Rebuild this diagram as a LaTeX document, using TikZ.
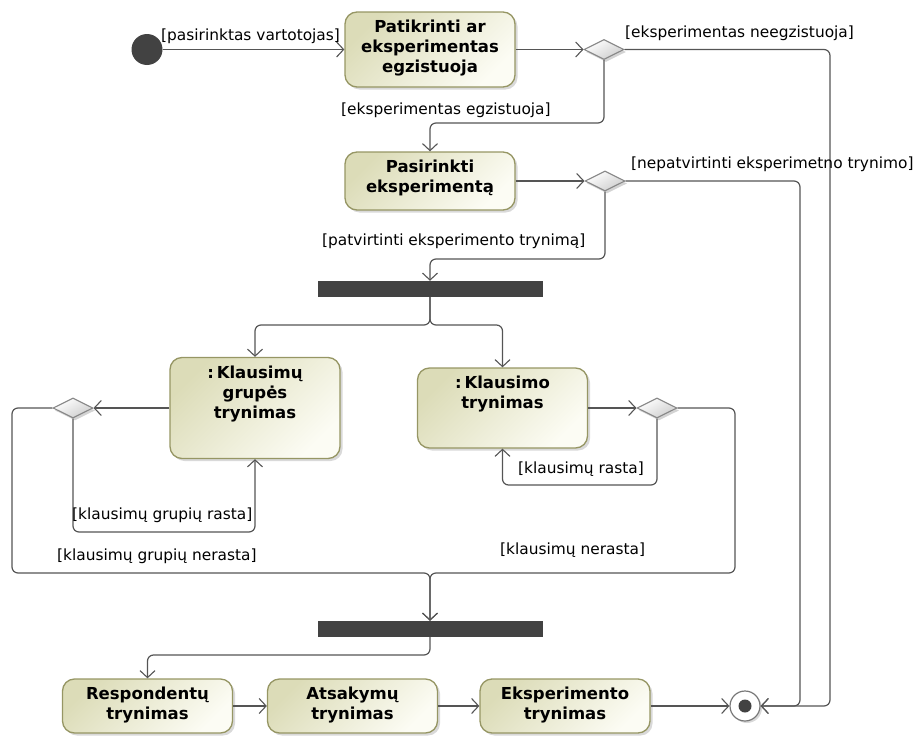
\documentclass[tikz,border=0pt]{standalone}
\usepackage{fontspec}
\setmainfont{DejaVu Sans}
\usetikzlibrary{arrows.meta,shapes.geometric,shadows,calc}

\definecolor{linec}{RGB}{85,85,85}
\definecolor{boxdark}{RGB}{220,220,184}
\definecolor{boxlight}{RGB}{252,252,244}
\definecolor{boxedge}{RGB}{150,150,100}
\definecolor{barc}{RGB}{66,66,66}
\definecolor{diaedge}{RGB}{135,135,135}
\definecolor{diafill}{RGB}{205,205,205}
\definecolor{endedge}{RGB}{120,120,120}

\begin{document}
\begin{tikzpicture}[x=1pt,y=-1pt,
  flow/.style={draw=linec, line width=1.2pt, rounded corners=6pt,
    -{Straight Barb[length=7pt,width=15pt,line width=1.1pt]}},
  actbox/.style={draw=boxedge, line width=1.3pt, rounded corners=12pt,
    top color=boxdark, bottom color=boxlight, shading angle=45,
    drop shadow={shadow xshift=2.5pt, shadow yshift=-2.5pt, opacity=.3},
    minimum width=170pt, inner sep=0pt},
  acttext/.style={font=\fontsize{16.5}{20}\selectfont\bfseries, align=center,
    inner sep=0pt, anchor=north},
  guard/.style={font=\fontsize{15.4}{18}\selectfont, inner sep=0pt, anchor=mid west},
  decision/.style={diamond, minimum width=40pt, minimum height=20pt, inner sep=0pt,
    draw=diaedge, line width=1.1pt, top color=white, bottom color=diafill,
    shading angle=30,
    drop shadow={shadow xshift=2pt, shadow yshift=-2.5pt, opacity=.35}},
  syncbar/.style={fill=barc, minimum width=225pt, minimum height=16pt, inner sep=0pt},
]
\useasboundingbox (0,0) rectangle (913,736);

% start / end
\node[circle, fill=barc, minimum size=31pt, inner sep=0pt] (ini) at (147,49.5) {};
\node[circle, draw=endedge, line width=1.2pt, fill=white, minimum size=30pt, inner sep=0pt,
  drop shadow={shadow xshift=2pt, shadow yshift=-2pt, opacity=.3}] (fin) at (745,706) {};
\node[circle, fill=barc, minimum size=13pt, inner sep=0pt] (finc) at (fin) {};

% actions
\node[actbox, minimum height=75pt] (b1) at (430,49.5) {};
\node[acttext] (b1t) at ($(b1.north)+(0,8.5)$) {Patikrinti ar\\eksperimentas\\egzistuoja};
\node[actbox, minimum height=58pt] (b2) at (430,181) {};
\node[acttext] (b2t) at ($(b2.north)+(0,8.5)$) {Pasirinkti\\eksperimentą};
\node[actbox, minimum height=101pt] (kg) at (255,408) {};
\node[acttext] (kgt) at ($(kg.north)+(0,8.5)$) {:\,Klausimų\\grupės\\trynimas};
\node[actbox, minimum height=80pt] (k) at (502.5,408) {};
\node[acttext] (kt) at ($(k.north)+(0,8.5)$) {:\,Klausimo\\trynimas};
\node[actbox, minimum height=54pt] (r) at (147.5,706) {};
\node[acttext] (rt) at ($(r.north)+(0,8.5)$) {Respondentų\\trynimas};
\node[actbox, minimum height=54pt] (a) at (352.5,706) {};
\node[acttext] (at) at ($(a.north)+(0,8.5)$) {Atsakymų\\trynimas};
\node[actbox, minimum height=54pt] (e) at (565,706) {};
\node[acttext] (et) at ($(e.north)+(0,8.5)$) {Eksperimento\\trynimas};

% decisions and bars
\node[decision] (d1) at (604,49.5) {};
\node[decision] (d2) at (605,181) {};
\node[decision] (d3) at (73,408) {};
\node[decision] (d4) at (657,408) {};
\node[syncbar] (bar1) at (430,289) {};
\node[syncbar] (bar2) at (430,629) {};

% flows
\draw[flow] (ini.east) -- (b1.west);
\draw[flow] (b1.east) -- (d1.west);
\draw[flow] (d1.east) -- (830,49.5) -- (830,706) -- (fin.east);
\draw[flow] (d1.south) -- (604,123) -- (430,123) -- (b2.north);
\draw[flow] (b2.east) -- (d2.west);
\draw[flow] (d2.east) -- (800,181) -- (800,706) -- (fin.east);
\draw[flow] (d2.south) -- (605,259) -- (430,259) -- (bar1.north);
\draw[flow] (bar1.south) -- (430,325) -- (255,325) -- (kg.north);
\draw[flow] (bar1.south) -- (430,325) -- (502.5,325) -- (k.north);
\draw[flow] (kg.west) -- (d3.east);
\draw[flow] (d3.west) -- (12,408) -- (12,573) -- (430,573) -- (bar2.north);
\draw[flow] (d3.south) -- (73,532) -- (255,532) -- (kg.south);
\draw[flow] (k.east) -- (d4.west);
\draw[flow] (d4.east) -- (735,408) -- (735,573) -- (430,573) -- (bar2.north);
\draw[flow] (d4.south) -- (657,485) -- (502.5,485) -- (k.south);
\draw[flow] (bar2.south) -- (430,655) -- (147.5,655) -- (r.north);
\draw[flow] (r.east) -- (a.west);
\draw[flow] (a.east) -- (e.west);
\draw[flow] (e.east) -- (fin.west);

% guards
\node[guard] (g1) at (161,38) {[pasirinktas vartotojas]};
\node[guard] (g2) at (625,35) {[eksperimentas neegzistuoja]};
\node[guard] (g3) at (341,112) {[eksperimentas egzistuoja]};
\node[guard] (g4) at (631,166) {[nepatvirtinti eksperimetno trynimo]};
\node[guard] (g5) at (322,243) {[patvirtinti eksperimento trynimą]};
\node[guard] (g6) at (72,517) {[klausimų grupių rasta]};
\node[guard] (g7) at (57,558) {[klausimų grupių nerasta]};
\node[guard] (g8) at (518,471) {[klausimų rasta]};
\node[guard] (g9) at (500,552) {[klausimų nerasta]};
\end{tikzpicture}
\end{document}
